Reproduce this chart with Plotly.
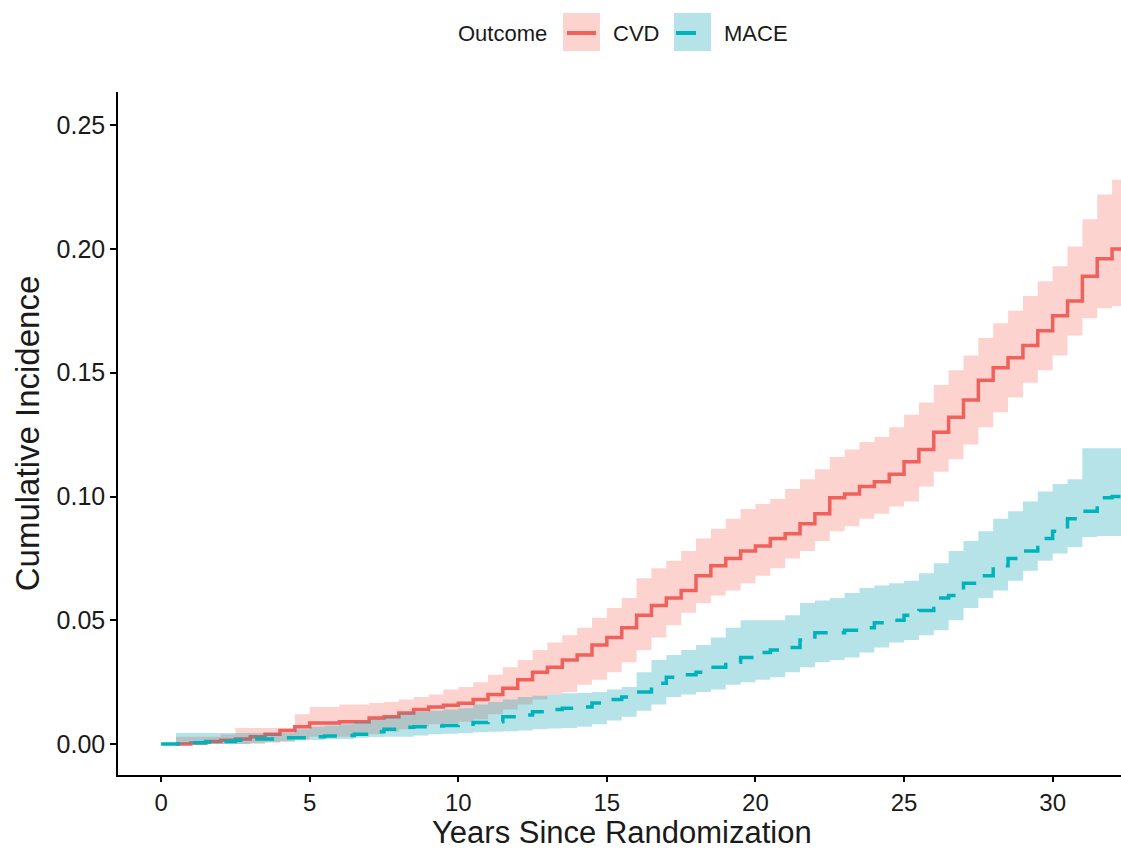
import plotly.graph_objects as go

# ---------------- data ----------------
years = [0.5, 1.0, 1.5, 2.0, 2.5, 3.0, 3.5, 4.0, 4.5, 5.0,
         5.5, 6.0, 6.5, 7.0, 7.5, 8.0, 8.5, 9.0, 9.5, 10.0,
         10.5, 11.0, 11.5, 12.0, 12.5, 13.0, 13.5, 14.0, 14.5, 15.0,
         15.5, 16.0, 16.5, 17.0, 17.5, 18.0, 18.5, 19.0, 19.5, 20.0,
         20.5, 21.0, 21.5, 22.0, 22.5, 23.0, 23.5, 24.0, 24.5, 25.0,
         25.5, 26.0, 26.5, 27.0, 27.5, 28.0, 28.5, 29.0, 29.5, 30.0,
         30.5, 31.0, 31.5, 32.0, 32.5]

cvd_est = [0.000, 0.0004, 0.001, 0.0015, 0.002, 0.003, 0.004, 0.0055, 0.007, 0.0085,
           0.0085, 0.009, 0.009, 0.0105, 0.011, 0.0125, 0.014, 0.015, 0.0157, 0.0165,
           0.018, 0.020, 0.0225, 0.026, 0.029, 0.031, 0.034, 0.036, 0.040, 0.043,
           0.047, 0.052, 0.056, 0.059, 0.062, 0.068, 0.072, 0.075, 0.078, 0.080,
           0.083, 0.085, 0.089, 0.093, 0.0995, 0.101, 0.104, 0.106, 0.109, 0.114,
           0.119, 0.126, 0.132, 0.139, 0.147, 0.152, 0.156, 0.161, 0.167, 0.173,
           0.179, 0.189, 0.196, 0.200, 0.201]

cvd_upper = [0.003, 0.003, 0.003, 0.004, 0.0065, 0.0065, 0.0065, 0.0065, 0.012, 0.015,
             0.015, 0.016, 0.016, 0.0166, 0.017, 0.018, 0.019, 0.020, 0.022, 0.023,
             0.025, 0.028, 0.031, 0.034, 0.038, 0.041, 0.044, 0.047, 0.051, 0.055,
             0.059, 0.067, 0.071, 0.074, 0.078, 0.083, 0.087, 0.091, 0.095, 0.097,
             0.099, 0.103, 0.107, 0.111, 0.116, 0.119, 0.122, 0.124, 0.128, 0.133,
             0.138, 0.145, 0.151, 0.157, 0.164, 0.170, 0.175, 0.181, 0.187, 0.193,
             0.201, 0.212, 0.222, 0.228, 0.228]

cvd_lower = [0.000, 0.000, 0.000, 0.000, 0.000, 0.000, 0.0005, 0.001, 0.002, 0.003,
             0.003, 0.003, 0.0035, 0.004, 0.005, 0.006, 0.007, 0.008, 0.0085, 0.009,
             0.010, 0.012, 0.014, 0.016, 0.018, 0.020, 0.021, 0.024, 0.026, 0.029,
             0.033, 0.038, 0.043, 0.048, 0.053, 0.057, 0.060, 0.062, 0.065, 0.068,
             0.071, 0.075, 0.078, 0.082, 0.086, 0.088, 0.091, 0.093, 0.096, 0.098,
             0.104, 0.110, 0.115, 0.121, 0.128, 0.134, 0.140, 0.146, 0.151, 0.157,
             0.165, 0.172, 0.176, 0.177, 0.178]

mace_years = [0.0] + years

mace_est = [0.0,
            0.0, 0.0005, 0.0008, 0.001, 0.0015, 0.002, 0.002, 0.0025, 0.0025, 0.003,
            0.0033, 0.0035, 0.004, 0.005, 0.006, 0.0068, 0.007, 0.0073, 0.0075, 0.008,
            0.0087, 0.009, 0.011, 0.0117, 0.013, 0.014, 0.0145, 0.015, 0.0166, 0.018,
            0.019, 0.021, 0.0246, 0.027, 0.028, 0.029, 0.031, 0.033, 0.035, 0.037,
            0.038, 0.039, 0.042, 0.045, 0.045, 0.046, 0.047, 0.049, 0.050, 0.052,
            0.054, 0.059, 0.060, 0.065, 0.068, 0.072, 0.075, 0.078, 0.083, 0.086,
            0.091, 0.094, 0.0995, 0.100, 0.100]

mace_upper = [0.0045, 0.0045, 0.0045, 0.0045, 0.0045, 0.0045, 0.0045, 0.0045, 0.006, 0.007,
              0.0075, 0.008, 0.009, 0.010, 0.011, 0.0125, 0.013, 0.0135, 0.014, 0.0145,
              0.016, 0.017, 0.018, 0.019, 0.0195, 0.020, 0.0205, 0.0206, 0.021, 0.022,
              0.023, 0.029, 0.034, 0.036, 0.038, 0.040, 0.043, 0.047, 0.050, 0.050,
              0.050, 0.052, 0.057, 0.058, 0.059, 0.061, 0.063, 0.064, 0.065, 0.066,
              0.069, 0.073, 0.078, 0.082, 0.086, 0.091, 0.094, 0.098, 0.102, 0.105,
              0.107, 0.1195, 0.1195, 0.1195, 0.1195]

mace_lower = [0.0, 0.0, 0.0, 0.0, 0.0, 0.0005, 0.0008, 0.001, 0.0015, 0.0016,
              0.002, 0.002, 0.0025, 0.0028, 0.003, 0.003, 0.0035, 0.004, 0.0042, 0.0045,
              0.0048, 0.005, 0.0052, 0.0055, 0.006, 0.0063, 0.0065, 0.007, 0.008, 0.0095,
              0.011, 0.0135, 0.016, 0.019, 0.020, 0.021, 0.022, 0.024, 0.025, 0.026,
              0.027, 0.029, 0.031, 0.033, 0.034, 0.035, 0.037, 0.039, 0.041, 0.042,
              0.044, 0.046, 0.050, 0.055, 0.059, 0.062, 0.066, 0.070, 0.074, 0.077,
              0.0796, 0.0836, 0.084, 0.084, 0.084]

x_ticks = [0, 5, 10, 15, 20, 25, 30]
y_ticks = [0.00, 0.05, 0.10, 0.15, 0.20, 0.25]
y_tick_labels = ["0.00", "0.05", "0.10", "0.15", "0.20", "0.25"]

outcomes = ["CVD", "MACE"]
x_title = "Years Since Randomization"
y_title = "Cumulative Incidence"
legend_title = "Outcome"

# ---------------- styles ----------------
CVD_LINE = "#F0615C"
MACE_LINE = "#00B3BA"
CVD_FILL = "rgba(248,118,109,0.32)"
MACE_FILL = "rgba(0,160,176,0.29)"
FONT = "Liberation Sans, Arial, sans-serif"
TXT = "#1a1a1a"

W, H = 1121, 852
PL, PR, PT, PB = 118, 1121, 92, 775


def px2x(px):
    return (px - PL) / (PR - PL)


def py2y(py):
    return (PB - py) / (PB - PT)


fig = go.Figure()

# CVD ribbon + line
fig.add_trace(go.Scatter(x=years, y=cvd_lower, mode="lines", line=dict(width=0, shape="hv"),
                         showlegend=False, hoverinfo="skip"))
fig.add_trace(go.Scatter(x=years, y=cvd_upper, mode="lines", line=dict(width=0, shape="hv"),
                         fill="tonexty", fillcolor=CVD_FILL, showlegend=False, hoverinfo="skip"))
fig.add_trace(go.Scatter(x=years, y=cvd_est, mode="lines", name=outcomes[0],
                         line=dict(color=CVD_LINE, width=3.5, shape="hv"), showlegend=False))

# MACE ribbon + line
fig.add_trace(go.Scatter(x=years, y=mace_lower, mode="lines", line=dict(width=0, shape="hv"),
                         showlegend=False, hoverinfo="skip"))
fig.add_trace(go.Scatter(x=years, y=mace_upper, mode="lines", line=dict(width=0, shape="hv"),
                         fill="tonexty", fillcolor=MACE_FILL, showlegend=False, hoverinfo="skip"))
fig.add_trace(go.Scatter(x=mace_years, y=mace_est, mode="lines", name=outcomes[1],
                         line=dict(color=MACE_LINE, width=3.5, shape="hv", dash="19px,14px"),
                         showlegend=False))

# ---------------- manual ggplot-style legend ----------------
shapes = []
annotations = []
annotations.append(dict(text=legend_title, x=px2x(456), y=py2y(34), xref="paper", yref="paper",
                        xanchor="left", yanchor="middle", showarrow=False,
                        font=dict(size=22, color=TXT, family=FONT)))
legend_items = [
    (outcomes[0], 563, CVD_FILL, CVD_LINE, (567, 596)),
    (outcomes[1], 674, MACE_FILL, MACE_LINE, (676, 696)),
]
for name, bx, fillc, linec, (lx0, lx1) in legend_items:
    shapes.append(dict(type="rect", xref="paper", yref="paper",
                       x0=px2x(bx), x1=px2x(bx + 37), y0=py2y(51), y1=py2y(13),
                       fillcolor=fillc, line=dict(width=0), layer="above"))
    shapes.append(dict(type="line", xref="paper", yref="paper",
                       x0=px2x(lx0), x1=px2x(lx1), y0=py2y(33), y1=py2y(33),
                       line=dict(color=linec, width=4), layer="above"))
    annotations.append(dict(text=name, x=px2x(bx + 48), y=py2y(34), xref="paper", yref="paper",
                            xanchor="left", yanchor="middle", showarrow=False,
                            font=dict(size=22, color=TXT, family=FONT)))

# x-axis title placed as a text annotation below the tick labels
annotations.append(dict(text=x_title, x=px2x(622), y=py2y(832), xref="paper", yref="paper",
                        xanchor="center", yanchor="middle", showarrow=False,
                        font=dict(size=31, color=TXT, family=FONT)))

fig.update_layout(
    width=W, height=H,
    margin=dict(l=PL, r=W - PR, t=PT, b=H - PB, pad=0),
    paper_bgcolor="white", plot_bgcolor="white",
    font=dict(family=FONT, color=TXT),
    showlegend=False,
    shapes=shapes,
    annotations=annotations,
    xaxis=dict(
        range=[-1.45, 32.3], tickvals=x_ticks, ticks="outside", ticklen=5, tickwidth=1.5,
        tickcolor="black", showline=True, linecolor="black", linewidth=1.5,
        showgrid=False, zeroline=False, tickfont=dict(size=24, color=TXT, family=FONT),
        automargin=False,
    ),
    yaxis=dict(
        range=[-0.0125, 0.2634], tickvals=y_ticks, ticktext=y_tick_labels, ticks="outside",
        ticklen=6, tickwidth=1.5, tickcolor="black", showline=True, linecolor="black",
        linewidth=1.5, showgrid=False, zeroline=False,
        tickfont=dict(size=25, color=TXT, family=FONT),
        title=dict(text=y_title, font=dict(size=33, color=TXT, family=FONT),
                   standoff=7),
        automargin=False,
    ),
)

fig.write_html(
    "out.html",
    config={"displayModeBar": False},
    post_script="document.body.style.margin='0';document.body.style.overflow='hidden';",
)
